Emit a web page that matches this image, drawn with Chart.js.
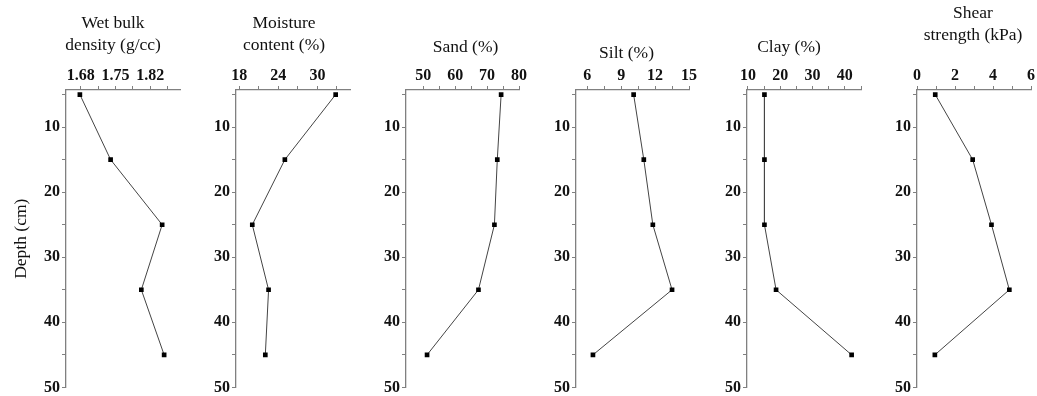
<!DOCTYPE html>
<html>
<head>
<meta charset="utf-8">
<script src="https://cdn.jsdelivr.net/npm/chart.js@4.4.1/dist/chart.umd.min.js"></script>
<style>
  html, body { margin: 0; padding: 0; background: #fff; }
  #wrap { position: relative; width: 1037px; height: 396px; overflow: hidden; }
  #wrap canvas { position: absolute; top: 0; }
</style>
</head>
<body>
<div id="wrap"></div>
<script>
// sample depths (cm)
var depths = [5, 15, 25, 35, 45];

// measured values, one per depth
var bulkDensity = [1.678, 1.740, 1.844, 1.802, 1.848];
var moisture = [32.8, 25.0, 20.0, 22.5, 22.0];
var sand = [74.4, 73.2, 72.3, 67.3, 51.2];
var silt = [10.1, 11.0, 11.8, 13.5, 6.5];
var clay = [15.1, 15.1, 15.1, 18.7, 42.1];
var shear = [0.96, 2.93, 3.92, 4.86, 0.94];

// labelled ticks of each top axis
var densityTicks = ['1.68', '1.75', '1.82'];
var moistureTicks = ['18', '24', '30'];
var sandTicks = ['50', '60', '70', '80'];
var siltTicks = ['6', '9', '12', '15'];
var clayTicks = ['10', '20', '30', '40'];
var shearTicks = ['0', '2', '4', '6'];
var depthTicks = ['10', '20', '30', '40', '50'];

var panels = [
    {title: ['Wet bulk', 'density (g/cc)'], values: bulkDensity, ticks: densityTicks, min: 1.65, max: 1.88, left: 66, titleY: 23, dx: -10},
    {title: ['Moisture', 'content (%)'], values: moisture, ticks: moistureTicks, min: 17.5, max: 35, left: 236, titleY: 23, dx: -9},
    {title: ['Sand (%)'], values: sand, ticks: sandTicks, min: 44.6, max: 80, left: 406, titleY: 47, dx: 3},
    {title: ['Silt (%)'], values: silt, ticks: siltTicks, min: 5, max: 15, left: 576, titleY: 53, dx: -6},
    {title: ['Clay (%)'], values: clay, ticks: clayTicks, min: 9.7, max: 45, left: 747, titleY: 47, dx: -15},
    {title: ['Shear', 'strength (kPa)'], values: shear, ticks: shearTicks, min: 0, max: 6, left: 917, titleY: 13, dx: -1}
];

var yAxisWidth = 60;
var plotWidth = 114;
var rightPad = 8;
var serif = "'Liberation Serif', 'Times New Roman', serif";
var axisGray = '#808080';

// major ticks get a label, a minor tick sits half way to the next one
function tickList(labels, min, max) {
    var majors = labels.map(Number);
    var step = majors[1] - majors[0];
    var list = [];
    majors.forEach(function(m, i) {
        if (m >= min - 1e-9) list.push({v: m, label: labels[i]});
        var half = m + step / 2;
        if (half <= max + 1e-9) list.push({v: half, label: ''});
    });
    return list;
}

var headerPlugin = {
    id: 'header',
    afterDraw: function(chart, args, opts) {
        var ctx = chart.ctx;
        var area = chart.chartArea;
        ctx.save();
        ctx.font = '17.5px ' + serif;
        ctx.fillStyle = '#111';
        ctx.textAlign = 'center';
        ctx.textBaseline = 'middle';
        opts.lines.forEach(function(t, i) {
            ctx.fillText(t, (area.left + area.right) / 2 + opts.dx, opts.y + i * 22);
        });
        ctx.restore();
    }
};

var depthList = tickList(depthTicks, 4.3, 50);
depthList.unshift({v: 5, label: ''});

var wrap = document.getElementById('wrap');

panels.forEach(function(p, k) {
    var canvas = document.createElement('canvas');
    canvas.width = yAxisWidth + plotWidth + rightPad;
    canvas.height = 399;
    canvas.style.left = (p.left - yAxisWidth) + 'px';
    wrap.appendChild(canvas);

    var xList = tickList(p.ticks, p.min, p.max);
    var points = depths.map(function(d, i) { return {x: p.values[i], y: d}; });

    new Chart(canvas, {
        type: 'line',
        data: {
            datasets: [{
                data: points,
                borderColor: '#444',
                borderWidth: 1,
                tension: 0,
                pointStyle: 'rect',
                pointRadius: 3.3,
                pointBackgroundColor: '#000',
                pointBorderWidth: 0
            }]
        },
        options: {
            responsive: false,
            animation: false,
            events: [],
            layout: {padding: {top: 0, bottom: 10, left: 0, right: rightPad}},
            plugins: {
                legend: {display: false},
                tooltip: {enabled: false},
                header: {lines: p.title, y: p.titleY, dx: p.dx}
            },
            scales: {
                x: {
                    type: 'linear',
                    position: 'top',
                    min: p.min,
                    max: p.max,
                    afterFit: function(s) { s.height = 90; },
                    afterBuildTicks: function(s) {
                        s.ticks = xList.map(function(t) { return {value: t.v}; });
                    },
                    grid: {drawOnChartArea: false, tickLength: 4, color: axisGray},
                    border: {color: axisGray, width: 1.3},
                    ticks: {
                        autoSkip: false,
                        maxRotation: 0,
                        padding: 1,
                        color: '#111',
                        font: {family: serif, size: 16, weight: 'bold'},
                        callback: function(v, i) { return xList[i].label; }
                    }
                },
                y: {
                    type: 'linear',
                    reverse: true,
                    min: 4.3,
                    max: 50,
                    afterFit: function(s) { s.width = yAxisWidth; },
                    afterBuildTicks: function(s) {
                        s.ticks = depthList.map(function(t) { return {value: t.v}; });
                    },
                    grid: {drawOnChartArea: false, tickLength: 4, color: axisGray},
                    border: {color: axisGray, width: 1.3},
                    title: {
                        display: k === 0,
                        text: 'Depth (cm)',
                        color: '#111',
                        padding: {top: 5, bottom: 0},
                        font: {family: serif, size: 17.5}
                    },
                    ticks: {
                        autoSkip: false,
                        padding: 2,
                        color: '#111',
                        font: {family: serif, size: 16, weight: 'bold'},
                        callback: function(v, i) { return depthList[i].label; }
                    }
                }
            }
        },
        plugins: [headerPlugin]
    });
});
</script>
</body>
</html>
